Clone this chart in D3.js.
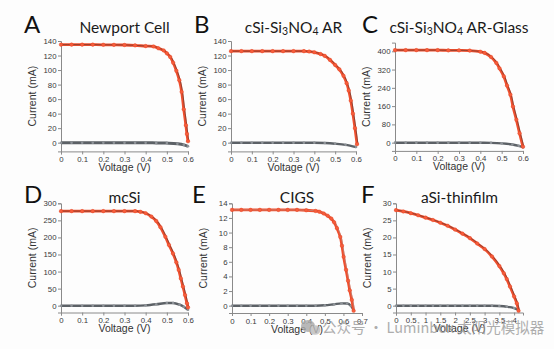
<!DOCTYPE html>
<html>
<head>
<meta charset="utf-8">
<title>Solar cell I-V curves</title>
<script src="https://d3js.org/d3.v7.min.js"></script>
<style>
  body { margin: 0; background: #fff; }
</style>
</head>
<body>
<script>
// illuminated I-V curves [voltage V, current mA]
const lightA = [[0,135],[0.05,135],[0.1,135],[0.15,135],[0.2,134.8],[0.25,134.7],[0.3,134.5],[0.35,134],[0.4,133],[0.437,132.5],[0.46,130],[0.485,127],[0.5,123],[0.516,118],[0.53,110],[0.545,99],[0.559,86],[0.57,70],[0.58,46],[0.59,24],[0.595,12],[0.6,2]];
const darkA = [[0,0],[0.05,0],[0.1,0],[0.15,0],[0.2,0],[0.25,0],[0.3,0],[0.35,0],[0.4,0],[0.45,-0.3],[0.5,-0.6],[0.55,-1.5],[0.58,-3],[0.6,-5]];

const lightB = [[0,126],[0.05,126],[0.1,126],[0.15,126],[0.2,126],[0.25,126],[0.3,126],[0.35,126],[0.375,125.5],[0.4,124.5],[0.43,122],[0.45,119.5],[0.475,114],[0.5,107],[0.52,101],[0.54,92],[0.555,82],[0.565,72],[0.575,58],[0.585,40],[0.595,20],[0.605,-2]];
const darkB = [[0,0],[0.05,0],[0.1,0],[0.15,0],[0.2,0],[0.25,0],[0.3,0],[0.35,0],[0.4,0],[0.45,-0.5],[0.5,-1.5],[0.55,-3],[0.6,-6]];

const lightC = [[0,405],[0.05,405],[0.1,405],[0.15,405],[0.2,405],[0.25,404],[0.3,404],[0.35,403],[0.4,398],[0.42,393],[0.45,375],[0.475,349],[0.49,325],[0.51,290],[0.525,250],[0.541,210],[0.553,158],[0.569,100],[0.584,41],[0.6,-18]];
const darkC = [[0,0],[0.05,0],[0.1,0],[0.15,0],[0.2,0],[0.25,0],[0.3,0],[0.35,0],[0.4,-0.5],[0.45,-1],[0.5,-3],[0.55,-8],[0.58,-14],[0.6,-20]];

const lightD = [[0,277],[0.05,277],[0.1,277],[0.15,277],[0.2,277],[0.25,277],[0.3,277],[0.35,277],[0.375,275],[0.4,271],[0.427,261],[0.45,248],[0.47,230],[0.493,202],[0.51,178],[0.529,153],[0.545,127],[0.556,105],[0.566,80],[0.576,56],[0.586,31],[0.595,7],[0.6,-5]];
const darkD = [[0,0],[0.05,0],[0.1,0],[0.15,0],[0.2,0],[0.25,0],[0.3,0],[0.35,0],[0.4,1],[0.45,4],[0.5,8],[0.53,8],[0.56,3],[0.58,-3],[0.6,-12]];

const lightE = [[0,13.1],[0.05,13.1],[0.1,13.1],[0.15,13.1],[0.2,13.1],[0.25,13.1],[0.3,13.1],[0.35,13.1],[0.4,13.05],[0.45,12.95],[0.47,12.85],[0.494,12.6],[0.515,12.3],[0.535,11.9],[0.55,11.4],[0.565,10.6],[0.583,9.4],[0.592,8.2],[0.601,6.7],[0.614,4.9],[0.625,3.4],[0.634,2.1],[0.645,0.8],[0.655,-0.7]];
const darkE = [[0,0],[0.05,0],[0.1,0],[0.15,0],[0.2,0],[0.25,0],[0.3,0],[0.35,0],[0.4,0],[0.45,0],[0.5,0.05],[0.55,0.2],[0.59,0.32],[0.62,0.3],[0.64,0],[0.655,-0.6]];

const lightF = [[0,28],[0.25,27.6],[0.5,27.1],[0.75,26.5],[1,25.8],[1.25,25.1],[1.5,24.3],[1.75,23.4],[2,22.3],[2.25,21.1],[2.5,19.8],[2.75,18.2],[3,16.6],[3.25,14.4],[3.5,11.6],[3.65,9.5],[3.75,7.8],[3.86,5.6],[4,2.7],[4.09,0.7],[4.15,-1.5]];
const darkF = [[0,0],[0.25,0],[0.5,0],[0.75,0],[1,0],[1.25,0],[1.5,0],[1.75,0],[2,0],[2.25,0],[2.5,0],[2.75,0],[3,0],[3.25,0],[3.5,-0.1],[3.75,-0.3],[4,-0.7],[4.15,-1.2]];

// axis ticks per panel
const ticksV06 = [0,0.1,0.2,0.3,0.4,0.5,0.6];
const ticksV07 = [0,0.1,0.2,0.3,0.4,0.5,0.6,0.7];
const ticksVF = [0,0.5,1,1.5,2,2.5,3,3.5,4];
const ticksI140 = [0,20,40,60,80,100,120,140];
const ticksI400 = [0,80,160,240,320,400];
const ticksI300 = [0,50,100,150,200,250,300];
const ticksI14 = [0,2,4,6,8,10,12,14];
const ticksI30 = [0,5,10,15,20,25,30];

const W = 554, H = 349;
const svg = d3.select("body").append("svg")
  .attr("width", W).attr("height", H);

svg.append("rect").attr("width", W).attr("height", H).attr("fill", "#fdfdfd");

const panels = [
  {letter: "A", title: ["Newport Cell"], light: lightA, dark: darkA, darkW: 3,
   xd: [0, 0.6], xr: [61, 188], yd: [-12, 140], yr: [151.4, 41], xt: ticksV06, yt: ticksI140,
   lx: 24, top: 33},
  {letter: "B", title: ["cSi-Si", "3", "NO", "4", " AR"], light: lightB, dark: darkB,
   xd: [0, 0.6], xr: [231, 356], yd: [-12, 140], yr: [151.4, 41], xt: ticksV06, yt: ticksI140,
   lx: 194, top: 33},
  {letter: "C", title: ["cSi-Si", "3", "NO", "4", " AR-Glass"], light: lightC, dark: darkC,
   xd: [0, 0.6], xr: [395, 523], yd: [-36, 438], yr: [150.9, 42.6], xt: ticksV06, yt: ticksI400,
   lx: 362, top: 33},
  {letter: "D", title: ["mcSi"], light: lightD, dark: darkD,
   xd: [0, 0.6], xr: [61, 188], yd: [-20, 300], yr: [312.5, 203.3], xt: ticksV06, yt: ticksI300,
   lx: 24, top: 203},
  {letter: "E", title: ["CIGS"], light: lightE, dark: darkE, fitColor: "#a0a0a0",
   xd: [0, 0.7], xr: [232, 362], yd: [-1, 14], yr: [313, 203.3], xt: ticksV07, yt: ticksI14,
   lx: 192, top: 203},
  {letter: "F", title: ["aSi-thinfilm"], light: lightF, dark: darkF,
   xd: [0, 4.3], xr: [396, 523], yd: [-2, 30], yr: [312.5, 203.3], xt: ticksVF, yt: ticksI30,
   lx: 361, top: 203}
];

const red = "#ef4f2e";
const grey = "#5c6166";

panels.forEach(p => {
  const x = d3.scaleLinear().domain(p.xd).range(p.xr);
  const y = d3.scaleLinear().domain(p.yd).range(p.yr);
  const g = svg.append("g");

  // axes
  const xAxis = g.append("g")
    .attr("transform", "translate(0," + p.yr[0] + ")")
    .call(d3.axisBottom(x).tickValues(p.xt).tickFormat(d3.format("~g")).tickSize(3).tickPadding(2));
  const yAxis = g.append("g")
    .attr("transform", "translate(" + p.xr[0] + ",0)")
    .call(d3.axisLeft(y).tickValues(p.yt).tickFormat(d3.format("~g")).tickSize(3).tickPadding(1.5));
  [xAxis, yAxis].forEach(a => {
    a.select(".domain").attr("stroke", "#8a8a8a").attr("stroke-width", 1);
    a.selectAll(".tick line").attr("stroke", "#8a8a8a");
    a.selectAll(".tick text").attr("fill", "#3a3a3a")
      .style("font-family", "Liberation Sans, Arial, sans-serif").style("font-size", "7.8px");
  });

  const line = d3.line().x(d => x(d[0])).y(d => y(d[1])).curve(d3.curveMonotoneX);

  // dark curve
  g.append("path").attr("d", line(p.dark)).attr("fill", "none")
    .attr("stroke", grey).attr("stroke-width", p.darkW || 2.4);
  g.selectAll(null).data(p.dark).enter().append("circle")
    .attr("cx", d => x(d[0])).attr("cy", d => y(d[1])).attr("r", 1.3)
    .attr("fill", "#8e9398");

  // illuminated curve
  const lineL = d3.line().x(d => x(d[0])).y(d => y(d[1])).curve(d3.curveCatmullRom.alpha(0.5));
  g.append("path").attr("d", lineL(p.light)).attr("fill", "none")
    .attr("stroke", red).attr("stroke-width", 2.8);
  // fit line
  g.append("path").attr("d", lineL(p.light)).attr("fill", "none")
    .attr("stroke", p.fitColor || "#333").attr("stroke-width", 0.5)
    .attr("transform", "translate(0.9,0)");
  g.selectAll(null).data(p.light).enter().append("circle")
    .attr("cx", d => x(d[0])).attr("cy", d => y(d[1])).attr("r", 1.8)
    .attr("fill", "#f55d3c").attr("stroke", "#e2401f").attr("stroke-width", 0.4);

  // labels
  const mid = (p.xr[0] + p.xr[1]) / 2;
  g.append("text").attr("x", mid).attr("y", p.yr[0] + 19.5)
    .attr("text-anchor", "middle").attr("fill", "#333")
    .style("font-family", "Liberation Sans, Arial, sans-serif").style("font-size", "10.5px")
    .text("Voltage (V)");
  const ym = (p.yr[0] + p.yr[1]) / 2;
  g.append("text").attr("transform", "translate(" + (p.xr[0] - 25) + "," + ym + ") rotate(-90)")
    .attr("text-anchor", "middle").attr("fill", "#333")
    .style("font-family", "Liberation Sans, Arial, sans-serif").style("font-size", "10.5px")
    .text("Current (mA)");

  const t = g.append("text").attr("x", mid).attr("y", p.top)
    .attr("text-anchor", "middle").attr("fill", "#1a1a1a")
    .style("font-family", "Lato, sans-serif").style("font-size", "15.5px");
  p.title.forEach((s, i) => {
    const sub = p.title.length > 1 && (i === 1 || i === 3);
    t.append("tspan").text(s)
      .attr("dy", sub ? 1.5 : (i > 0 ? -1.5 : 0))
      .style("font-size", sub ? "10.5px" : "15.5px");
  });

  g.append("text").attr("x", p.lx).attr("y", p.top)
    .attr("fill", "#111")
    .style("font-family", "Lato, sans-serif").style("font-size", "24px")
    .text(p.letter);
});

// watermark
const wm = svg.append("g").attr("opacity", 0.8);
wm.append("ellipse").attr("cx", 308).attr("cy", 326).attr("rx", 7).attr("ry", 6).attr("fill", "#a8a8a8");
wm.append("ellipse").attr("cx", 315).attr("cy", 330).attr("rx", 5.5).attr("ry", 4.8).attr("fill", "#bcbcbc");
wm.append("text").attr("x", 322).attr("y", 333)
  .attr("fill", "#9a9a9a")
  .style("font-family", "Noto Sans CJK SC, sans-serif").style("font-size", "14.5px")
  .text("公众号 · Luminbox 太阳光模拟器");
</script>
</body>
</html>
